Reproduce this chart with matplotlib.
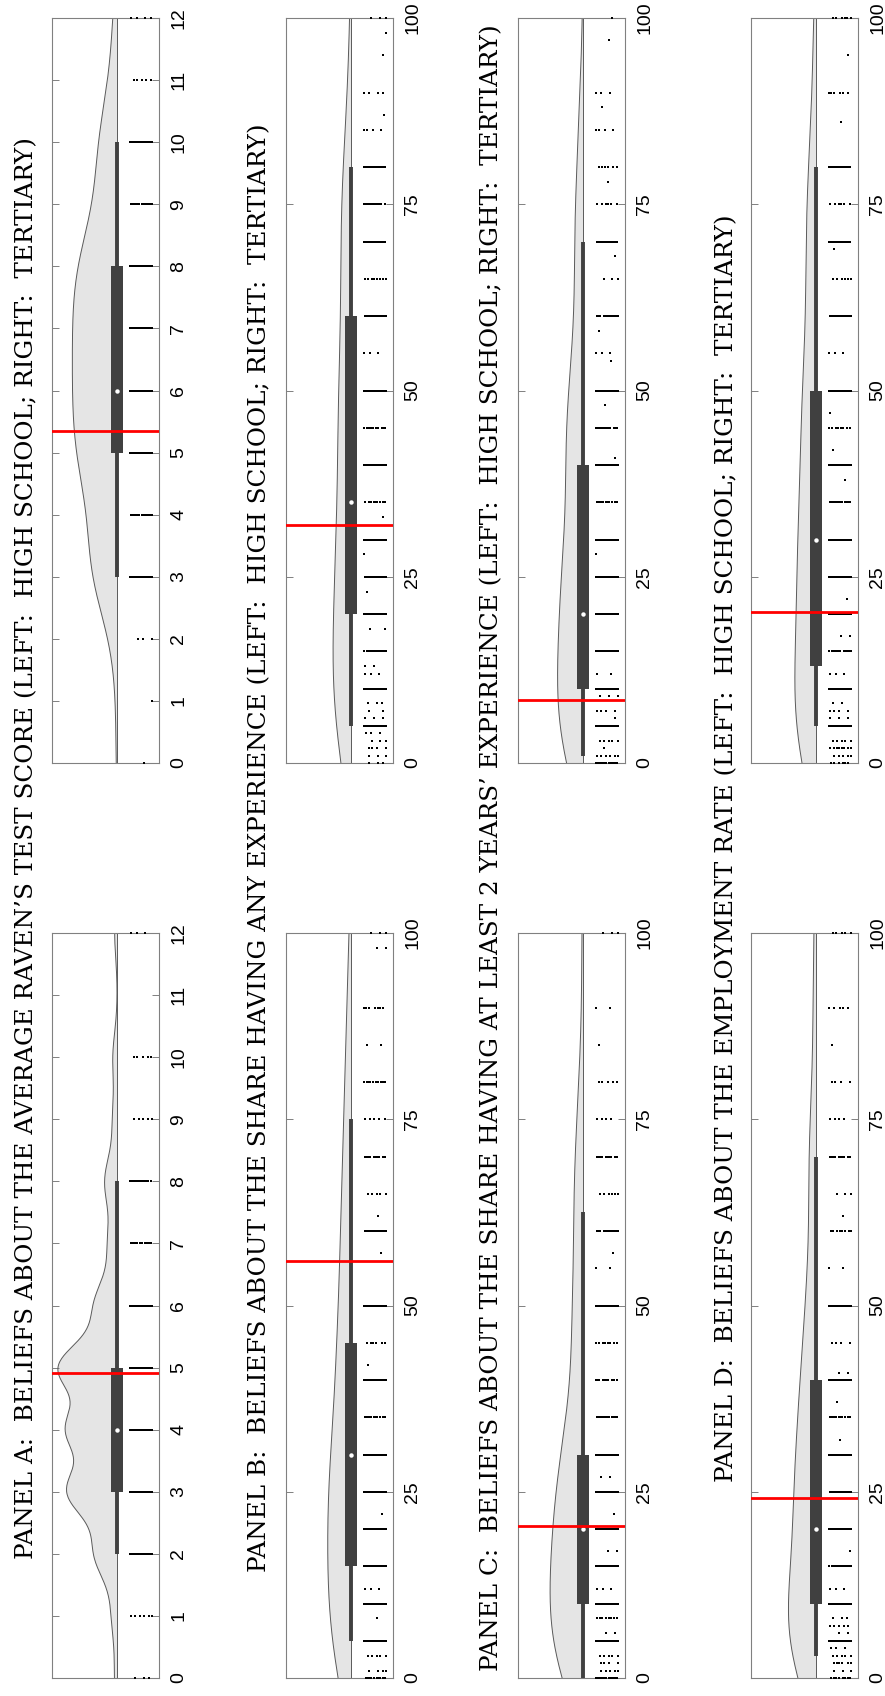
import numpy as np
import matplotlib.pyplot as plt

# Panel titles
titles = [
    "PANEL A:  BELIEFS ABOUT THE AVERAGE RAVEN\u2019S TEST SCORE (LEFT:  HIGH SCHOOL; RIGHT:  TERTIARY)",
    "PANEL B:  BELIEFS ABOUT THE SHARE HAVING ANY EXPERIENCE (LEFT:  HIGH SCHOOL; RIGHT:  TERTIARY)",
    "PANEL C:  BELIEFS ABOUT THE SHARE HAVING AT LEAST 2 YEARS\u2019 EXPERIENCE (LEFT:  HIGH SCHOOL; RIGHT:  TERTIARY)",
    "PANEL D:  BELIEFS ABOUT THE EMPLOYMENT RATE (LEFT:  HIGH SCHOOL; RIGHT:  TERTIARY)",
]

# Panel A: Raven's score beliefs (0-12), responses per value
raven_vals = list(range(13))
raven_hs = [3, 6, 25, 55, 55, 65, 25, 10, 14, 5, 5, 0, 3]
raven_ter = [1, 1, 3, 25, 20, 35, 35, 35, 35, 15, 18, 5, 4]

# Panel B: share with any experience (%)
anyexp_hs_vals = [0, 1, 3, 5, 8, 10, 12, 15, 20, 22, 25, 30, 35, 40, 42, 45, 50, 57,
                  60, 62, 65, 70, 75, 80, 85, 90, 98, 100]
anyexp_hs = [10, 4, 5, 20, 1, 22, 3, 20, 25, 1, 22, 25, 10, 22, 1, 6, 22, 1,
             18, 1, 5, 10, 5, 10, 2, 7, 2, 3]
anyexp_ter_vals = [0, 1, 2, 3, 4, 5, 6, 7, 8, 10, 12, 13, 15, 18, 20, 23, 25, 28, 30,
                   33, 35, 40, 45, 50, 55, 60, 65, 70, 75, 80, 85, 87, 90, 95, 98, 100]
anyexp_ter = [3, 3, 4, 3, 3, 18, 3, 2, 3, 25, 3, 2, 16, 2, 25, 1, 16, 1, 25,
              1, 9, 22, 10, 30, 3, 18, 8, 18, 12, 15, 4, 1, 4, 1, 1, 3]

# Panel C: share with at least 2 years' experience (%)
exp2_hs_vals = [0, 1, 2, 3, 5, 6, 8, 10, 12, 15, 17, 20, 22, 25, 27, 30, 35, 40, 45,
                50, 55, 57, 60, 65, 70, 75, 80, 85, 90, 100]
exp2_hs = [16, 5, 4, 5, 22, 2, 8, 25, 3, 25, 2, 28, 1, 22, 2, 22, 12, 10, 8,
           15, 2, 1, 12, 6, 10, 4, 5, 1, 2, 3]
exp2_ter_vals = [0, 1, 2, 3, 5, 6, 7, 9, 10, 12, 15, 20, 25, 28, 30, 35, 40, 41, 45,
                 48, 50, 54, 55, 58, 60, 65, 68, 70, 75, 78, 80, 85, 88, 90, 97, 100]
exp2_ter = [15, 6, 1, 5, 18, 1, 4, 3, 22, 2, 22, 25, 20, 1, 20, 10, 22, 1, 12,
            1, 20, 1, 3, 1, 12, 3, 1, 12, 6, 1, 6, 4, 1, 3, 1, 1]

# Panel D: employment rate (%)
emp_hs_vals = [0, 1, 2, 3, 4, 5, 6, 7, 8, 10, 12, 15, 17, 20, 25, 30, 32, 35, 37, 40,
               41, 45, 50, 55, 60, 62, 65, 70, 75, 80, 85, 90, 100]
emp_hs = [8, 3, 6, 5, 3, 18, 2, 5, 3, 22, 3, 14, 1, 22, 18, 20, 1, 10, 1, 18,
          2, 4, 16, 2, 8, 1, 3, 10, 4, 4, 1, 5, 5]
emp_ter_vals = [0, 1, 2, 3, 5, 6, 7, 8, 10, 12, 15, 17, 20, 22, 25, 30, 35, 38, 40,
                42, 45, 47, 50, 55, 60, 65, 69, 70, 75, 80, 86, 90, 95, 100]
emp_ter = [6, 5, 8, 5, 18, 3, 4, 2, 22, 3, 12, 2, 22, 1, 20, 22, 12, 1, 20,
           1, 8, 1, 25, 3, 15, 6, 1, 15, 6, 14, 1, 6, 1, 6]

# Box summaries: [lower whisker, q1, median, q3, upper whisker]
box_hs = [[2, 3, 4, 5, 8], [5, 15, 30, 45, 75], [0, 10, 20, 30, 62.5], [3, 10, 20, 40, 70]]
box_ter = [[3, 5, 6, 8, 10], [5, 20, 35, 60, 80], [1, 10, 20, 40, 70], [5, 13, 30, 50, 80]]

# Actual values (red lines)
actual_hs = [4.91, 56.0, 20.4, 24.2]
actual_ter = [5.34, 32.0, 8.4, 20.3]

axis_max = [12, 100, 100, 100]
axis_ticks = [list(range(13)), [0, 25, 50, 75, 100], [0, 25, 50, 75, 100], [0, 25, 50, 75, 100]]
kde_bw_hs = [0.4, 8, 7, 7]
kde_bw_ter = [0.75, 9, 7, 8]
peak_hs = [0.555, 0.22, 0.31, 0.26]
peak_ter = [0.42, 0.17, 0.24, 0.20]

hs_data = [(raven_vals, raven_hs), (anyexp_hs_vals, anyexp_hs),
           (exp2_hs_vals, exp2_hs), (emp_hs_vals, emp_hs)]
ter_data = [(raven_vals, raven_ter), (anyexp_ter_vals, anyexp_ter),
            (exp2_ter_vals, exp2_ter), (emp_ter_vals, emp_ter)]

W, H = 885, 1696
col_left = [52, 286, 518, 751]
col_w = 107
row_span = {'ter': (18, 763), 'hs': (933, 1678)}
title_x = [27, 260, 492, 727]
longest_title_px = 1640

BASE = 0.61
GREY = '#808080'
DARK = '#404040'


def draw_panel(ax, vals, counts, box, actual, vmax, ticks, bw, peak):
    vals = np.asarray(vals, float)
    counts = np.asarray(counts, float)

    # half violin from a gaussian kde of the responses
    grid = np.linspace(0, vmax, 500)
    dens = (counts[None, :] * np.exp(-0.5 * ((grid[:, None] - vals[None, :]) / bw) ** 2)).sum(axis=1)
    width = peak * dens / dens.max()
    ax.fill_betweenx(grid, BASE - width, BASE, facecolor='#e5e5e5', edgecolor='none', zorder=1)
    ax.plot(BASE - width, grid, color='#5a5a5a', lw=0.7, zorder=2)
    ax.plot([BASE, BASE], [0, vmax], color='#5a5a5a', lw=0.7, zorder=2)

    # box plot
    stats = [dict(whislo=box[0], q1=box[1], med=box[2], q3=box[3], whishi=box[4], fliers=[])]
    ax.bxp(stats, positions=[BASE], widths=0.115, patch_artist=True, showcaps=False,
           showfliers=False,
           boxprops=dict(facecolor=DARK, edgecolor=DARK, linewidth=0),
           whiskerprops=dict(color=DARK, linewidth=2.8, solid_capstyle='butt'),
           medianprops=dict(linewidth=0), zorder=3)
    ax.plot(BASE, box[2], 'o', color='white', ms=3.2, mew=0, zorder=4)

    # strip of individual responses
    xs, ys = [], []
    for v, n in zip(vals, counts):
        off = (v * 0.371) % 1.0
        for k in range(int(n)):
            xs.append(0.725 + 0.215 * ((off + (k + 1) * 0.6180339887) % 1.0))
            ys.append(v)
    ax.plot(xs, ys, 's', color='black', ms=1.5, mew=0, zorder=3, clip_on=False)

    # actual value
    ax.axhline(actual, color='#ff0000', lw=2.0, zorder=5)

    ax.set_xlim(0, 1)
    ax.set_ylim(0, vmax)
    ax.set_xticks([])
    ax.set_yticks(ticks)
    ax.yaxis.set_ticks_position('both')
    ax.tick_params(axis='y', direction='in', length=5, width=0.7, color=GREY,
                   left=True, right=True, labelleft=False, labelright=True,
                   labelrotation=90, labelsize=14, pad=8)
    for lab in ax.get_yticklabels():
        lab.set_family('Liberation Sans')
        lab.set_verticalalignment('center')
    for sp in ax.spines.values():
        sp.set_color(GREY)
        sp.set_linewidth(0.8)


fig = plt.figure(figsize=(W / 100, H / 100), dpi=100)

for i in range(4):
    for key, data, box, actual, bw, peak in (
            ('ter', ter_data[i], box_ter[i], actual_ter[i], kde_bw_ter[i], peak_ter[i]),
            ('hs', hs_data[i], box_hs[i], actual_hs[i], kde_bw_hs[i], peak_hs[i])):
        y0, y1 = row_span[key]
        ax = fig.add_axes([col_left[i] / W, 1 - y1 / H, col_w / W, (y1 - y0) / H])
        draw_panel(ax, data[0], data[1], box, actual, axis_max[i], axis_ticks[i], bw, peak)

# size the titles so the longest one runs nearly the full height
title_texts = [fig.text(title_x[i] / W, 0.5, titles[i], rotation=90, ha='center',
                        va='center', family='DejaVu Serif', fontsize=10)
               for i in range(4)]
renderer = fig.canvas.get_renderer()
longest = max(t.get_window_extent(renderer).height for t in title_texts)
for t in title_texts:
    t.set_fontsize(10 * longest_title_px / longest)

fig.savefig('out.png', dpi=100)
